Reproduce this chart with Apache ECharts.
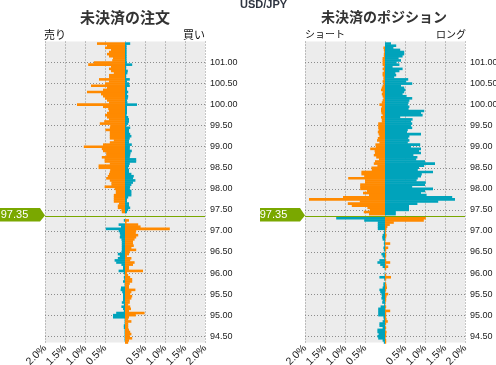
<!DOCTYPE html>
<html><head><meta charset="utf-8">
<script src="https://cdn.jsdelivr.net/npm/echarts@6/dist/echarts.min.js"></script>
<style>html,body{margin:0;padding:0;background:#fff}#c{width:496px;height:365px}</style>
</head><body><div id="c"></div>
<script>
// price ladder, top (101.50) to bottom (94.35), 0.05 steps
const priceLevels = [];
for (let i = 0; i < 144; i++) priceLevels.push(((10150 - 5 * i) / 100).toFixed(2));
const currentPrice = '97.35';

// 未決済の注文 : orange, teal
const ordersOrange = [
  0, -0.70, -0.45, -0.50, -0.35, -0.40, -0.45, -0.40, -0.30, -0.32,
  -0.78, -0.92, -0.35, -0.40, -0.35, -0.28, -0.40, -0.40, -0.65, -0.40,
  -0.50, -0.85, -0.45, -0.55, -0.95, -0.60, -0.55, -0.50, -0.45, -0.40,
  -1.20, -0.55, -0.42, -0.40, -0.45, -0.50, -0.45, -0.40, -0.52, -0.63,
  -0.37, -0.38, -0.49, -0.38, -0.38, -0.38, -0.38, -0.28, -0.38, -0.55,
  -1.03, -0.58, -0.55, -0.47, -0.47, -0.58, -0.51, -0.51, -0.38, -0.66,
  -0.66, -0.37, -0.38, -0.40, -0.43, -0.47, -0.38, -0.34, -0.34, -0.51,
  -0.26, -0.23, -0.23, -0.28, -0.28, -0.28, -0.28, -0.15, -0.18, -0.18,
  -0.09, -0.08, 0, 0, 0, 0.10, 0.04, 0.33, 0.39, 1.12,
  0.28, 0.27, 0.33, 0.28, 0.24, 0.20, 0.20, 0.22, 0.16, 0.28,
  0.12, 0.10, 0.05, 0.16, 0.13, 0.24, 0.20, 0.10, 0.10, 0.45,
  0.05, 0.08, 0.13, 0.18, 0.18, 0.12, 0.10, 0.10, 0.26, 0.16,
  0.13, 0.18, 0.16, 0.12, 0.12, 0.08, 0.13, 0.15, 0.10, 0.49,
  0.27, 0.10, 0.08, 0.16, 0.08, 0.08, 0.08, 0.10, 0.13, 0.16,
  0.12, 0.18, 0.10, 0.08
];
const ordersTeal = [
  0, 0.13, 0.04, 0.04, 0.04, 0.04, 0.04, 0.04, 0.04, 0.04,
  0.05, 0.18, 0.03, 0.03, 0.07, 0.06, 0.03, 0.03, 0.12, 0.05,
  0.10, 0.12, 0.05, 0.05, 0.08, 0.05, 0.08, 0.07, 0.05, 0.06,
  0.30, 0.05, 0.05, 0.05, 0.05, 0.04, 0.08, 0.10, 0.10, 0.08,
  0.03, 0.13, 0.10, 0.10, 0.13, 0.16, 0.12, 0.10, 0.10, 0.17,
  0.12, 0.12, 0.17, 0.14, 0.13, 0.12, 0.28, 0.28, 0.12, 0.10,
  0.08, 0.10, 0.10, 0.16, 0.22, 0.20, 0.26, 0.20, 0.16, 0.13,
  0.12, 0.16, 0.16, 0.16, 0.08, 0.05, 0.05, 0.10, 0.10, 0.13,
  0.08, 0.05, 0, 0, 0, -0.03, 0, -0.16, -0.10, -0.48,
  -0.16, -0.13, -0.12, -0.13, -0.09, -0.08, -0.08, -0.08, -0.08, -0.08,
  -0.09, -0.18, -0.13, -0.18, -0.26, -0.22, -0.09, -0.05, -0.05, -0.16,
  -0.03, -0.01, -0.03, -0.02, -0.05, -0.01, -0.01, -0.10, -0.11, -0.07,
  -0.05, -0.05, -0.05, -0.05, -0.08, -0.03, -0.09, -0.05, -0.03, -0.22,
  -0.30, -0.30, -0.01, -0.01, -0.01, -0.03, -0.03, -0.01, -0.01, -0.01,
  -0.01, -0.01, -0.01, 0
];

// 未決済のポジション : orange (ショート), teal (ロング)
const positionsOrange = [
  0, 0, 0, -0.04, -0.03, -0.02, -0.03, -0.03, -0.06, -0.06,
  -0.06, -0.06, -0.03, -0.06, -0.03, -0.06, -0.06, -0.04, -0.04, -0.06,
  -0.03, -0.06, -0.08, -0.10, -0.06, -0.08, -0.06, -0.04, -0.06, -0.08,
  -0.14, -0.08, -0.10, -0.10, -0.09, -0.06, -0.10, -0.08, -0.08, -0.17,
  -0.17, -0.17, -0.16, -0.18, -0.16, -0.14, -0.18, -0.20, -0.14, -0.24,
  -0.23, -0.37, -0.26, -0.25, -0.28, -0.22, -0.15, -0.25, -0.28, -0.19,
  -0.34, -0.33, -0.59, -0.59, -0.52, -0.92, -0.50, -0.50, -0.62, -0.62,
  -0.62, -0.45, -0.55, -0.40, -1.05, -1.90, -0.63, -0.93, -0.83, -0.44,
  -0.38, -0.53, -0.40, 0, 1.02, 0.97, 0.22, 0.12, 0.06, 0.04,
  0.02, 0.02, 0.04, 0.03, 0.01, 0.01, 0.13, 0.01, 0.08, 0.03,
  0.01, 0.03, 0.03, 0.01, 0.03, 0.13, 0.03, 0.08, 0.03, 0,
  0, 0.03, 0.15, 0.03, 0, 0.03, 0.04, 0.05, 0.03, 0.01,
  0.08, 0.04, 0.03, 0.03, 0.01, 0.01, 0.03, 0.01, 0.13, 0.03,
  0.03, 0.03, 0.04, 0.07, 0.03, 0.01, 0.03, 0.01, 0.04, 0.03,
  0.03, 0.01, 0.03, 0.03
];
const positionsTeal = [
  0, 0.15, 0.28, 0.21, 0.38, 0.48, 0.48, 0.44, 0.34, 0.40,
  0.29, 0.36, 0.19, 0.44, 0.36, 0.26, 0.28, 0.23, 0.58, 0.53,
  0.68, 0.40, 0.48, 0.51, 0.48, 0.44, 0.54, 0.68, 0.61, 0.59,
  0.57, 0.61, 0.59, 0.98, 0.90, 0.94, 0.38, 0.69, 0.65, 0.68,
  0.65, 0.68, 0.57, 0.55, 0.90, 0.61, 0.58, 0.61, 0.57, 0.88,
  0.65, 0.90, 0.85, 0.90, 0.71, 0.81, 0.78, 1.00, 1.25, 0.98,
  0.85, 0.82, 1.20, 0.92, 0.90, 0.82, 0.79, 1.02, 1.00, 0.68,
  1.20, 1.00, 0.90, 1.04, 1.68, 1.75, 1.33, 0.81, 0.60, 0.60,
  0.60, 0.27, 0.27, 0, -1.22, -0.52, -0.18, -0.18, -0.18, -0.18,
  -0.02, -0.03, -0.06, -0.07, -0.06, -0.02, -0.03, -0.02, -0.04, -0.03,
  -0.01, -0.09, -0.06, -0.02, -0.14, -0.19, -0.12, -0.06, -0.01, 0,
  -0.01, -0.01, -0.14, -0.02, 0, -0.04, -0.04, -0.06, -0.14, -0.12,
  -0.09, -0.08, -0.09, -0.06, -0.07, -0.02, -0.11, -0.17, -0.17, -0.17,
  -0.17, -0.04, -0.03, -0.06, -0.14, -0.14, -0.06, -0.19, -0.19, -0.16,
  -0.19, -0.17, -0.06, -0.03
];

const ORANGE = '#ff8a00', TEAL = '#00a3bb', GREEN = '#7aa800';
const GRIDLINE = {color: '#8c8c8c', width: 1, type: [1, 2]};
const isMajor = (i, v) => { const c = Math.round(parseFloat(v) * 100); return c % 50 === 0 && c < 10150; };
const NUMFONT = 'Liberation Sans, Arial, sans-serif';
const JPFONT = 'Noto Sans CJK JP, sans-serif';
const BARW = 2.6;

function xAxisDef(g) {
  return {
    type: 'value', gridIndex: g, min: -2, max: 2, interval: 0.5,
    axisLine: {show: false}, axisTick: {show: false},
    axisLabel: {rotate: 45, margin: 4, fontSize: 10.5, color: '#222', fontFamily: NUMFONT,
      formatter: v => v === 0 ? '' : Math.abs(v).toFixed(1) + '%'},
    splitLine: {show: true, lineStyle: GRIDLINE}
  };
}
function yAxisDef(g) {
  return {
    type: 'category', gridIndex: g, data: priceLevels, inverse: true, boundaryGap: false,
    position: 'right', axisLine: {show: false}, axisTick: {show: false},
    axisLabel: {interval: isMajor, margin: 5, fontSize: 9, color: '#222', fontFamily: NUMFONT},
    splitLine: {show: true, interval: isMajor, lineStyle: GRIDLINE}
  };
}
function priceMarks(labelShift) {
  return {
    markLine: {silent: true, symbol: 'none', animation: false,
      label: {show: false}, lineStyle: {color: GREEN, width: 1.2, type: 'solid'},
      data: [{yAxis: currentPrice}]},
    markPoint: {silent: true, animation: false,
      symbol: 'path://M0,0L40,0L45,7.5L40,13.5L0,13.5Z', symbolSize: [45, 13.5],
      symbolKeepAspect: false, symbolOffset: [-22.5, -1.5],
      itemStyle: {color: GREEN},
      label: {show: true, formatter: currentPrice, color: '#fff', fontSize: 11,
        fontFamily: NUMFONT, offset: [labelShift, 0]},
      data: [{coord: [-2, currentPrice]}]}
  };
}

const chart = echarts.init(document.getElementById('c'), null, {renderer: 'canvas'});
chart.setOption({
  animation: false,
  title: [
    {text: 'USD/JPY', left: 240, top: -1, padding: 0,
      textStyle: {fontSize: 11, fontWeight: 'bold', color: '#2e3440', fontFamily: NUMFONT}},
    {text: '未決済の注文', left: 125, top: 10, textAlign: 'center', padding: 0,
      textStyle: {fontSize: 15, fontWeight: 'bold', color: '#333', fontFamily: JPFONT}},
    {text: '未決済のポジション', left: 384, top: 10, textAlign: 'center', padding: 0,
      textStyle: {fontSize: 14, fontWeight: 'bold', color: '#333', fontFamily: JPFONT}},
    {text: '売り', left: 44, top: 29, padding: 0,
      textStyle: {fontSize: 11, fontWeight: 'normal', color: '#111', fontFamily: JPFONT}},
    {text: '買い', left: 205, top: 29, textAlign: 'right', padding: 0,
      textStyle: {fontSize: 11, fontWeight: 'normal', color: '#111', fontFamily: JPFONT}},
    {text: 'ショート', left: 305, top: 29, padding: 0,
      textStyle: {fontSize: 10, fontWeight: 'normal', color: '#111', fontFamily: JPFONT}},
    {text: 'ロング', left: 466, top: 29, textAlign: 'right', padding: 0,
      textStyle: {fontSize: 10, fontWeight: 'normal', color: '#111', fontFamily: JPFONT}}
  ],
  grid: [
    {left: 45, width: 160, top: 41.5, height: 301, show: true, backgroundColor: '#ececec',
      borderWidth: 0, containLabel: false, outerBoundsMode: 'none'},
    {left: 305, width: 160, top: 41.5, height: 301, show: true, backgroundColor: '#ececec',
      borderWidth: 0, containLabel: false, outerBoundsMode: 'none'}
  ],
  xAxis: [xAxisDef(0), xAxisDef(1)],
  yAxis: [yAxisDef(0), yAxisDef(1)],
  series: [
    Object.assign({type: 'bar', name: 'orders-o', xAxisIndex: 0, yAxisIndex: 0, stack: 'o',
      data: ordersOrange, barWidth: BARW, itemStyle: {color: ORANGE}, silent: true}, priceMarks(-8)),
    {type: 'bar', name: 'orders-t', xAxisIndex: 0, yAxisIndex: 0, stack: 'o',
      data: ordersTeal, barWidth: BARW, itemStyle: {color: TEAL}, silent: true},
    Object.assign({type: 'bar', name: 'pos-o', xAxisIndex: 1, yAxisIndex: 1, stack: 'p',
      data: positionsOrange, barWidth: BARW, itemStyle: {color: ORANGE}, silent: true}, priceMarks(-9)),
    {type: 'bar', name: 'pos-t', xAxisIndex: 1, yAxisIndex: 1, stack: 'p',
      data: positionsTeal, barWidth: BARW, itemStyle: {color: TEAL}, silent: true}
  ]
});
</script>
</body></html>
